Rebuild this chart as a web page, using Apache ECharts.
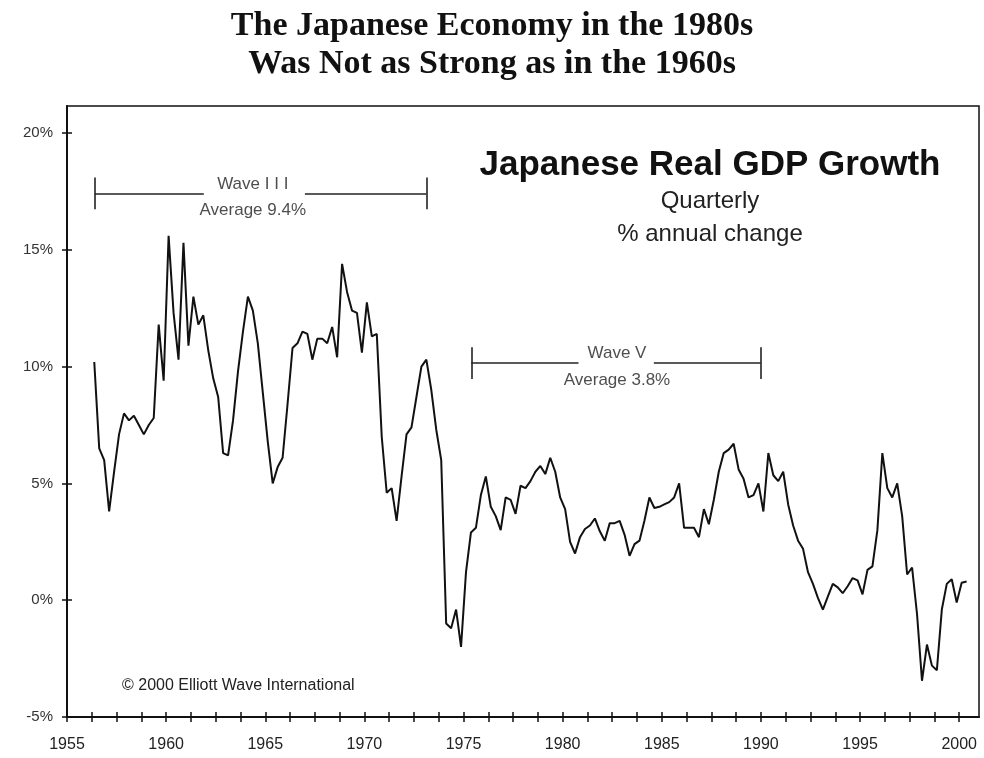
<!DOCTYPE html>
<html><head><meta charset="utf-8">
<script src="https://cdn.jsdelivr.net/npm/echarts@6/dist/echarts.min.js"></script>
<style>html,body{margin:0;padding:0;background:#fff}#c{width:984px;height:758px}</style>
</head><body><div id="c"></div>
<script>
// ---- data: Japanese real GDP growth, quarterly, % annual change ----
// first point is Q2 1956, plotted at the quarter's midpoint
const firstQuarter = 1956.375;
const quarterStep = 0.25;
const gdp1950s = [10.2, 6.5, 6.0,
  3.8, 5.5, 7.1, 8.0,
  7.7, 7.9, 7.5, 7.1,
  7.5, 7.8, 11.8, 9.4];
const gdp1960s = [15.6, 12.3, 10.3, 15.3,
  10.9, 13.0, 11.8, 12.2,
  10.7, 9.5, 8.7, 6.3,
  6.2, 7.7, 9.8, 11.5,
  13.0, 12.4, 11.0, 8.9,
  6.8, 5.0, 5.7, 6.1,
  8.4, 10.8, 11.0, 11.5,
  11.4, 10.3, 11.2, 11.2,
  11.0, 11.7, 10.4, 14.4,
  13.2, 12.4, 12.3, 10.6];
const gdp1970s = [12.75, 11.3, 11.4, 7.0,
  4.6, 4.8, 3.4, 5.3,
  7.1, 7.4, 8.7, 10.0,
  10.3, 9.0, 7.3, 6.0,
  -1.0, -1.2, -0.4, -2.0,
  1.2, 2.9, 3.1, 4.5,
  5.3, 4.0, 3.6, 3.0,
  4.4, 4.3, 3.7, 4.9,
  4.8, 5.1, 5.5, 5.75,
  5.4, 6.1, 5.5, 4.4];
const gdp1980s = [3.9, 2.5, 2.0, 2.7,
  3.05, 3.2, 3.5, 2.95,
  2.55, 3.3, 3.3, 3.4,
  2.8, 1.9, 2.4, 2.55,
  3.4, 4.4, 3.95, 4.0,
  4.1, 4.2, 4.4, 5.0,
  3.1, 3.1, 3.1, 2.7,
  3.9, 3.25, 4.3, 5.5,
  6.3, 6.45, 6.7, 5.6,
  5.2, 4.4, 4.5, 5.0];
const gdp1990s = [3.8, 6.3, 5.35, 5.1,
  5.5, 4.1, 3.2, 2.55,
  2.2, 1.2, 0.7, 0.1,
  -0.4, 0.15, 0.7, 0.55,
  0.3, 0.6, 0.95, 0.85,
  0.25, 1.3, 1.45, 3.0,
  6.3, 4.8, 4.4, 5.0,
  3.6, 1.1, 1.4, -0.6,
  -3.45, -1.9, -2.8, -3.0,
  -0.4, 0.7, 0.9, -0.1];
const gdp2000s = [0.75, 0.8];

const xLabelYears = [1955, 1960, 1965, 1970, 1975, 1980, 1985, 1990, 1995, 2000];
const xTickStep = 1.25;
const yTickValues = [-5, 0, 5, 10, 15, 20];

// wave annotations: [start year, end year], level (%), text
const waveIII = { start: 1956.41, end: 1973.13, level: 17.42, gapFrom: 1961.9, gapTo: 1967.0,
  textYear: 1964.37, name: 'Wave I I I', avg: 'Average 9.4%' };
const waveV = { start: 1975.39, end: 1989.99, level: 10.15, gapFrom: 1980.8, gapTo: 1984.6,
  textYear: 1982.74, name: 'Wave V', avg: 'Average 3.8%' };

// ---- build ----
const allValues = [].concat(gdp1950s, gdp1960s, gdp1970s, gdp1980s, gdp1990s, gdp2000s);
const lineData = allValues.map((v, i) => [firstQuarter + i * quarterStep, v]);
const xTicks = [];
for (let t = xLabelYears[0]; t <= xLabelYears[xLabelYears.length - 1] + 1e-9; t += xTickStep) xTicks.push(t);

function bracketLines(w) {
  const h = 0.68;
  return [
    [{ coord: [w.start, w.level - h] }, { coord: [w.start, w.level + h] }],
    [{ coord: [w.start, w.level] }, { coord: [w.gapFrom, w.level] }],
    [{ coord: [w.gapTo, w.level] }, { coord: [w.end, w.level] }],
    [{ coord: [w.end, w.level - h] }, { coord: [w.end, w.level + h] }]
  ];
}
function bracketTexts(w) {
  return [
    { value: [w.textYear, w.level + 0.40], name: w.name },
    { value: [w.textYear, w.level - 0.72], name: w.avg }
  ];
}

const X_MIN = 1955, X_MAX = 2001, Y_MIN = -5, Y_MAX = 21.16;
const axisCommonX = { type: 'value', min: X_MIN, max: X_MAX, position: 'bottom',
  splitLine: { show: false } };
const axisCommonY = { type: 'value', min: Y_MIN, max: Y_MAX, position: 'left',
  splitLine: { show: false } };
const SANS = '"Liberation Sans", Arial, Helvetica, sans-serif';

const chart = echarts.init(document.getElementById('c'), null, { renderer: 'canvas' });
chart.setOption({
  animation: false,
  backgroundColor: '#fff',
  grid: { left: 67, right: 5, top: 106, bottom: 41, show: true, borderColor: '#111', borderWidth: 1.5, backgroundColor: 'transparent' },
  xAxis: [
    Object.assign({}, axisCommonX, {
      axisLine: { show: true, onZero: false, lineStyle: { color: '#111', width: 2 } },
      axisTick: { show: true, length: 5, inside: false, customValues: xTicks, lineStyle: { color: '#111', width: 1.5 } },
      axisLabel: { show: true, customValues: xLabelYears, margin: 20, color: '#222', fontFamily: SANS, fontSize: 16,
        formatter: v => String(Math.round(v)) }
    }),
    Object.assign({}, axisCommonX, {
      axisLine: { show: false, onZero: false },
      axisTick: { show: true, length: 5, inside: true, customValues: xTicks, lineStyle: { color: '#111', width: 1.5 } },
      axisLabel: { show: false }
    })
  ],
  yAxis: [
    Object.assign({}, axisCommonY, {
      axisLine: { show: true, onZero: false, lineStyle: { color: '#111', width: 2 } },
      axisTick: { show: true, length: 5, inside: false, customValues: yTickValues, lineStyle: { color: '#111', width: 1.5 } },
      axisLabel: { show: true, customValues: yTickValues, margin: 14, color: '#333', fontFamily: SANS, fontSize: 15,
        formatter: v => Math.round(v) + '%' }
    }),
    Object.assign({}, axisCommonY, {
      axisLine: { show: false, onZero: false },
      axisTick: { show: true, length: 5, inside: true, customValues: yTickValues, lineStyle: { color: '#111', width: 1.5 } },
      axisLabel: { show: false }
    })
  ],
  series: [
    {
      type: 'line', name: 'Japanese Real GDP Growth', xAxisIndex: 0, yAxisIndex: 0,
      data: lineData, showSymbol: false, symbol: 'none', smooth: false,
      lineStyle: { color: '#111', width: 2 },
      emphasis: { disabled: true },
      markLine: {
        silent: true, symbol: ['none', 'none'], label: { show: false },
        lineStyle: { color: '#222', width: 1.6, type: 'solid' },
        emphasis: { disabled: true },
        data: bracketLines(waveIII).concat(bracketLines(waveV))
      }
    },
    {
      type: 'scatter', xAxisIndex: 0, yAxisIndex: 0, symbolSize: 0, silent: true,
      data: bracketTexts(waveIII).concat(bracketTexts(waveV)),
      label: { show: true, position: 'inside', formatter: p => p.name, color: '#222',
        fontFamily: SANS, fontSize: 17 }
    }
  ],
  graphic: [
    { type: 'text', x: 492, y: 26, style: { text: 'The Japanese Economy in the 1980s', align: 'center', verticalAlign: 'middle', textAlign: 'center', textVerticalAlign: 'middle', font: 'bold 34px "Liberation Serif", "Times New Roman", serif', fill: '#111' } },
    { type: 'text', x: 492, y: 64, style: { text: 'Was Not as Strong as in the 1960s', align: 'center', verticalAlign: 'middle', textAlign: 'center', textVerticalAlign: 'middle', font: 'bold 34px "Liberation Serif", "Times New Roman", serif', fill: '#111' } },
    { type: 'text', x: 710, y: 165, style: { text: 'Japanese Real GDP Growth', align: 'center', verticalAlign: 'middle', textAlign: 'center', textVerticalAlign: 'middle', font: 'bold 35px ' + SANS, fill: '#111' } },
    { type: 'text', x: 710, y: 201, style: { text: 'Quarterly', align: 'center', verticalAlign: 'middle', textAlign: 'center', textVerticalAlign: 'middle', font: '24px ' + SANS, fill: '#222' } },
    { type: 'text', x: 710, y: 234, style: { text: '% annual change', align: 'center', verticalAlign: 'middle', textAlign: 'center', textVerticalAlign: 'middle', font: '24px ' + SANS, fill: '#222' } },
    { type: 'text', x: 122, y: 686, style: { text: '\u00A9 2000 Elliott Wave International', align: 'left', verticalAlign: 'middle', textAlign: 'left', textVerticalAlign: 'middle', font: '16px ' + SANS, fill: '#222' } }
  ]
});
</script></body></html>
